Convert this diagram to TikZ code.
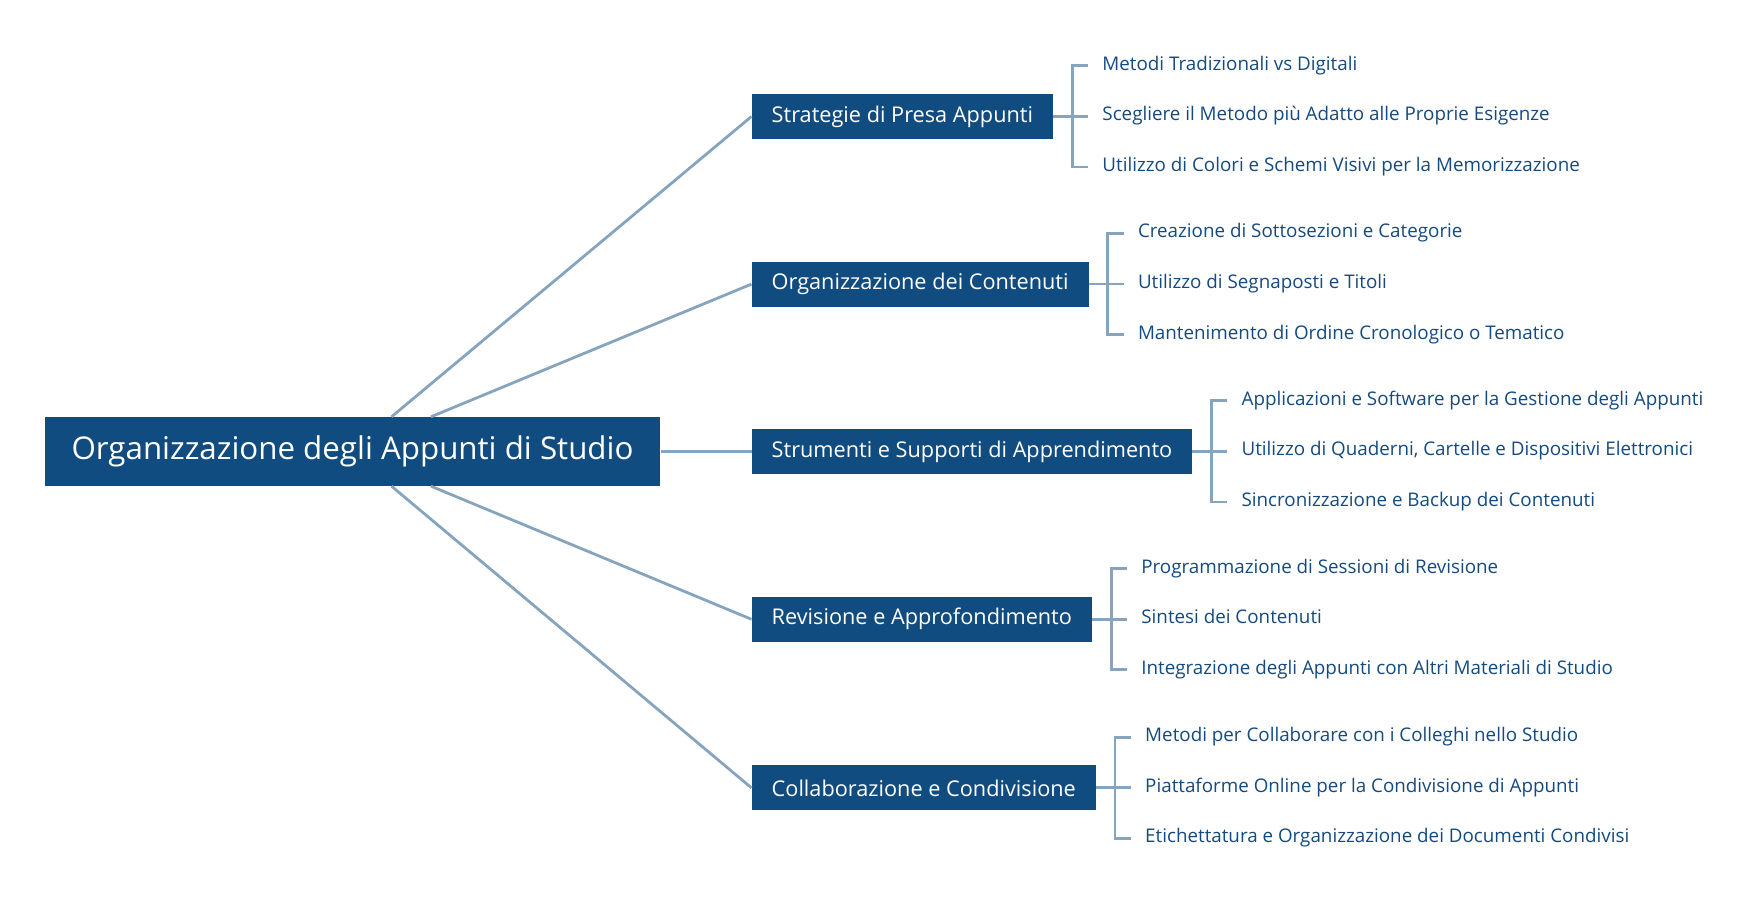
\documentclass[tikz,border=0pt]{standalone}
\usepackage{fontspec}
\setmainfont{Open Sans}
\usetikzlibrary{positioning}
\definecolor{boxblue}{RGB}{17,76,128}
\definecolor{linkgray}{RGB}{134,164,190}
\definecolor{leafblue}{RGB}{20,74,128}

\begin{document}
\begin{tikzpicture}[x=1pt, y=1pt,
    rootbox/.style={fill=boxblue, text=white, font=\fontsize{31.3}{36}\selectfont,
        minimum height=69pt, inner xsep=27pt},
    topicbox/.style={fill=boxblue, text=white, font=\fontsize{21.7}{25}\selectfont,
        minimum height=45pt, inner xsep=20pt, anchor=west},
    leaftext/.style={text=leafblue, font=\fontsize{18.8}{22}\selectfont, anchor=west,
        inner sep=0pt, text height=14pt, text depth=5pt},
    link/.style={draw=linkgray, line width=2.8pt}]
    \useasboundingbox (0,0) rectangle (1764,915);
    % centre
    \node[rootbox] (root) at (352.5,463.5) {Organizzazione degli Appunti di Studio};
    % topics
    \node[topicbox] (t1) at (751.5,798.5) {Strategie di Presa Appunti};
    \node[topicbox] (t2) at (751.5,630.9) {Organizzazione dei Contenuti};
    \node[topicbox] (t3) at (751.5,463.5) {Strumenti e Supporti di Apprendimento};
    \node[topicbox] (t4) at (751.5,295.7) {Revisione e Approfondimento};
    \node[topicbox] (t5) at (751.5,127.1) {Collaborazione e Condivisione};
    \draw[link] ([xshift=39pt]root.north) -- (t1.west);
    \draw[link] ([xshift=78.5pt]root.north) -- (t2.west);
    \draw[link] (root.east) -- (t3.west);
    \draw[link] ([xshift=78.5pt]root.south) -- (t4.west);
    \draw[link] ([xshift=39pt]root.south) -- (t5.west);
    % leaves
    \node[leaftext] (l11) at ([xshift=49pt,yshift=50.6pt]t1.east) {Metodi Tradizionali vs Digitali};
    \node[leaftext] (l12) at ([xshift=49pt]t1.east) {Scegliere il Metodo più Adatto alle Proprie Esigenze};
    \node[leaftext] (l13) at ([xshift=49pt,yshift=-50.6pt]t1.east) {Utilizzo di Colori e Schemi Visivi per la Memorizzazione};
    \node[leaftext] (l21) at ([xshift=49pt,yshift=50.6pt]t2.east) {Creazione di Sottosezioni e Categorie};
    \node[leaftext] (l22) at ([xshift=49pt]t2.east) {Utilizzo di Segnaposti e Titoli};
    \node[leaftext] (l23) at ([xshift=49pt,yshift=-50.6pt]t2.east) {Mantenimento di Ordine Cronologico o Tematico};
    \node[leaftext] (l31) at ([xshift=49pt,yshift=50.6pt]t3.east) {Applicazioni e Software per la Gestione degli Appunti};
    \node[leaftext] (l32) at ([xshift=49pt]t3.east) {Utilizzo di Quaderni, Cartelle e Dispositivi Elettronici};
    \node[leaftext] (l33) at ([xshift=49pt,yshift=-50.6pt]t3.east) {Sincronizzazione e Backup dei Contenuti};
    \node[leaftext] (l41) at ([xshift=49pt,yshift=50.6pt]t4.east) {Programmazione di Sessioni di Revisione};
    \node[leaftext] (l42) at ([xshift=49pt]t4.east) {Sintesi dei Contenuti};
    \node[leaftext] (l43) at ([xshift=49pt,yshift=-50.6pt]t4.east) {Integrazione degli Appunti con Altri Materiali di Studio};
    \node[leaftext] (l51) at ([xshift=49pt,yshift=50.6pt]t5.east) {Metodi per Collaborare con i Colleghi nello Studio};
    \node[leaftext] (l52) at ([xshift=49pt]t5.east) {Piattaforme Online per la Condivisione di Appunti};
    \node[leaftext] (l53) at ([xshift=49pt,yshift=-50.6pt]t5.east) {Etichettatura e Organizzazione dei Documenti Condivisi};
    % brackets
    \foreach \t in {1,...,5} {
        \coordinate (j\t) at ([xshift=19pt]t\t.east);
        \draw[link] ([xshift=-14pt]l\t1.west) -| (j\t) |- ([xshift=-14pt]l\t3.west);
        \draw[link] (t\t.east) -- ([xshift=-14pt]l\t2.west);
    }
\end{tikzpicture}
\end{document}
